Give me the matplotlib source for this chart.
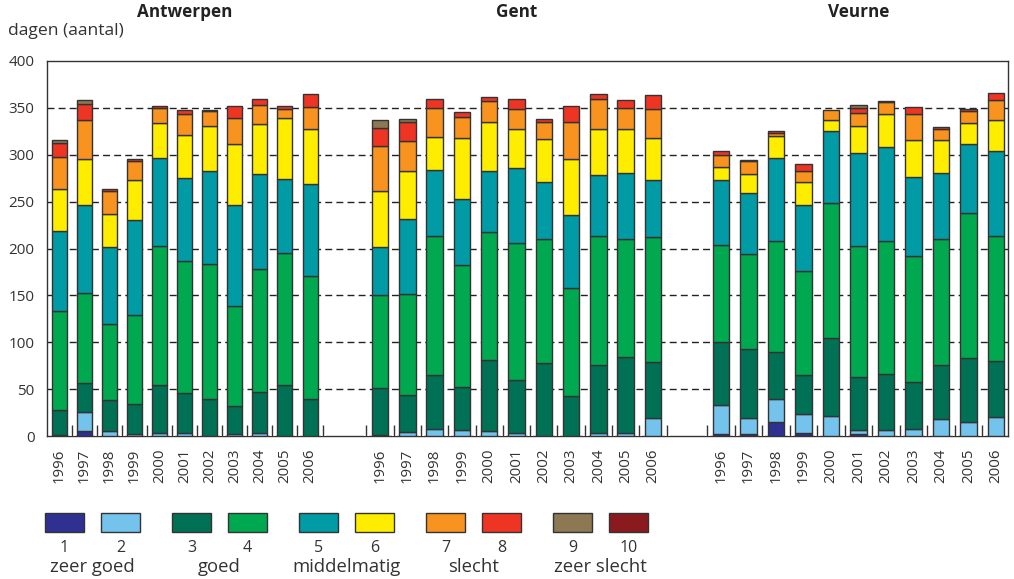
import matplotlib.pyplot as plt
from matplotlib.patches import Rectangle
import numpy as np

plt.rcParams["font.family"] = ["Open Sans", "DejaVu Sans"]

years = ["1996", "1997", "1998", "1999", "2000", "2001",
         "2002", "2003", "2004", "2005", "2006"]
cities = ["Antwerpen", "Gent", "Veurne"]

# days per index class 1..10, one row per year
antwerpen = [
    [0, 1, 27, 105, 86, 45, 34, 15, 3, 0],
    [5, 21, 31, 96, 93, 50, 41, 17, 4, 0],
    [0, 5, 33, 81, 83, 35, 24, 3, 0, 0],
    [0, 2, 32, 95, 101, 43, 20, 3, 0, 0],
    [0, 3, 51, 149, 94, 37, 16, 2, 0, 0],
    [0, 3, 43, 141, 88, 46, 23, 4, 0, 0],
    [0, 0, 39, 145, 99, 48, 16, 1, 0, 0],
    [0, 2, 30, 107, 107, 65, 28, 13, 0, 0],
    [0, 3, 44, 131, 102, 53, 20, 6, 0, 0],
    [0, 0, 54, 141, 79, 65, 10, 3, 0, 0],
    [0, 0, 40, 131, 98, 58, 24, 14, 0, 0],
]
gent = [
    [0, 1, 50, 99, 52, 59, 48, 20, 8, 0],
    [0, 4, 40, 107, 81, 51, 32, 20, 3, 0],
    [0, 7, 58, 148, 71, 35, 31, 9, 0, 0],
    [0, 6, 46, 130, 71, 65, 22, 6, 0, 0],
    [0, 5, 76, 137, 65, 52, 22, 5, 0, 0],
    [0, 3, 57, 146, 80, 42, 21, 10, 0, 0],
    [0, 0, 78, 132, 61, 46, 18, 3, 0, 0],
    [0, 0, 43, 115, 78, 60, 39, 17, 0, 0],
    [0, 3, 73, 137, 65, 50, 31, 6, 0, 0],
    [0, 3, 81, 126, 71, 46, 23, 8, 0, 0],
    [0, 19, 60, 133, 61, 45, 31, 15, 0, 0],
]
veurne = [
    [2, 31, 67, 104, 69, 14, 13, 4, 0, 0],
    [2, 17, 74, 101, 65, 20, 14, 1, 0, 0],
    [15, 24, 51, 118, 89, 23, 3, 2, 0, 0],
    [3, 20, 42, 111, 70, 25, 12, 7, 0, 0],
    [0, 21, 84, 144, 76, 12, 11, 0, 0, 0],
    [2, 4, 57, 140, 99, 29, 14, 5, 3, 0],
    [0, 6, 60, 142, 100, 36, 12, 1, 0, 0],
    [0, 7, 51, 134, 84, 40, 28, 7, 0, 0],
    [0, 18, 58, 134, 71, 35, 12, 2, 0, 0],
    [0, 15, 68, 155, 74, 22, 13, 2, 0, 0],
    [0, 20, 60, 133, 91, 33, 21, 8, 0, 0],
]

class_numbers = ["1", "2", "3", "4", "5", "6", "7", "8", "9", "10"]
class_names = ["zeer goed", "goed", "middelmatig", "slecht", "zeer slecht"]
colors = ["#2e3192", "#74c3ec", "#007155", "#00a84f", "#009ba4",
          "#ffed00", "#f7931e", "#ee3524", "#8c7853", "#8b1a1e"]

# layout of the three groups (x in pixels from the left spine)
group_start = [12, 333, 674]
group_step = [25.1, 27.3, 27.5]
group_width = [15, 16.5, 16.5]

fig = plt.figure(figsize=(10.14, 5.79), dpi=100)
ax = fig.add_axes([47 / 1014, 143 / 579, 961 / 1014, 375 / 579])

centers_all, labels_all, bounds_all = [], [], []
for g, data in enumerate([antwerpen, gent, veurne]):
    arr = np.array(data, dtype=float)
    x = group_start[g] + group_step[g] * np.arange(len(years))
    bottom = np.zeros(len(years))
    for c in range(arr.shape[1]):
        vals = arr[:, c]
        mask = vals > 0
        ax.bar(x[mask], vals[mask], bottom=bottom[mask], width=group_width[g],
               color=colors[c], edgecolor="#333333", linewidth=1.0, zorder=3)
        bottom += vals
    centers_all += list(x)
    labels_all += years
    bounds_all += list(np.append(x - group_step[g] / 2, x[-1] + group_step[g] / 2))
    ax.text(np.mean(x), 1.13, cities[g], transform=ax.get_xaxis_transform(),
            ha="center", va="center", fontsize=12.3, fontweight="bold",
            color="#222222")

# inward tick marks between bars, with white halo
bounds_all = [b for b in bounds_all if 2 < b < 958]
ax.vlines(bounds_all, 0, 12, color="white", lw=3.5, zorder=4)
ax.vlines(bounds_all, 0, 12, color="#333333", lw=1.0, zorder=5)

ax.set_xlim(0, 961)
ax.set_ylim(0, 400)
ax.set_xticks(centers_all)
ax.set_xticklabels(labels_all, rotation=90, fontsize=10.8, color="#333333")
ax.tick_params(axis="x", length=0, pad=9)
ax.set_yticks(np.arange(0, 401, 50))
ax.tick_params(axis="y", length=0, pad=9, labelsize=11, labelcolor="#333333")
for y in range(50, 400, 50):
    ax.axhline(y, color="#222222", lw=1.0, linestyle=(0, (5, 3)), zorder=1)
for s in ax.spines.values():
    s.set_color("#333333")
    s.set_linewidth(1.0)

fig.text(8 / 1014, 1 - 31 / 579, "dagen (aantal)", fontsize=12.6,
         color="#333333", ha="left", va="center")

# legend drawn in pixel coordinates
lax = fig.add_axes([0, 0, 1, 1])
lax.set_xlim(0, 1014)
lax.set_ylim(579, 0)
lax.axis("off")
for i in range(10):
    pair, within = divmod(i, 2)
    x0 = 45 + pair * 127 + within * 56
    lax.add_patch(Rectangle((x0, 513), 39, 19, facecolor=colors[i],
                            edgecolor="#333333", linewidth=1.0))
    lax.text(x0 + 19.5, 548, class_numbers[i], ha="center", va="center",
             fontsize=11.5, color="#333333")
for p in range(5):
    xm = 45 + p * 127 + 28 + 19.5
    lax.text(xm, 567, class_names[p], ha="center", va="center",
             fontsize=13.3, color="#333333")

fig.savefig("out.png", dpi=100)
